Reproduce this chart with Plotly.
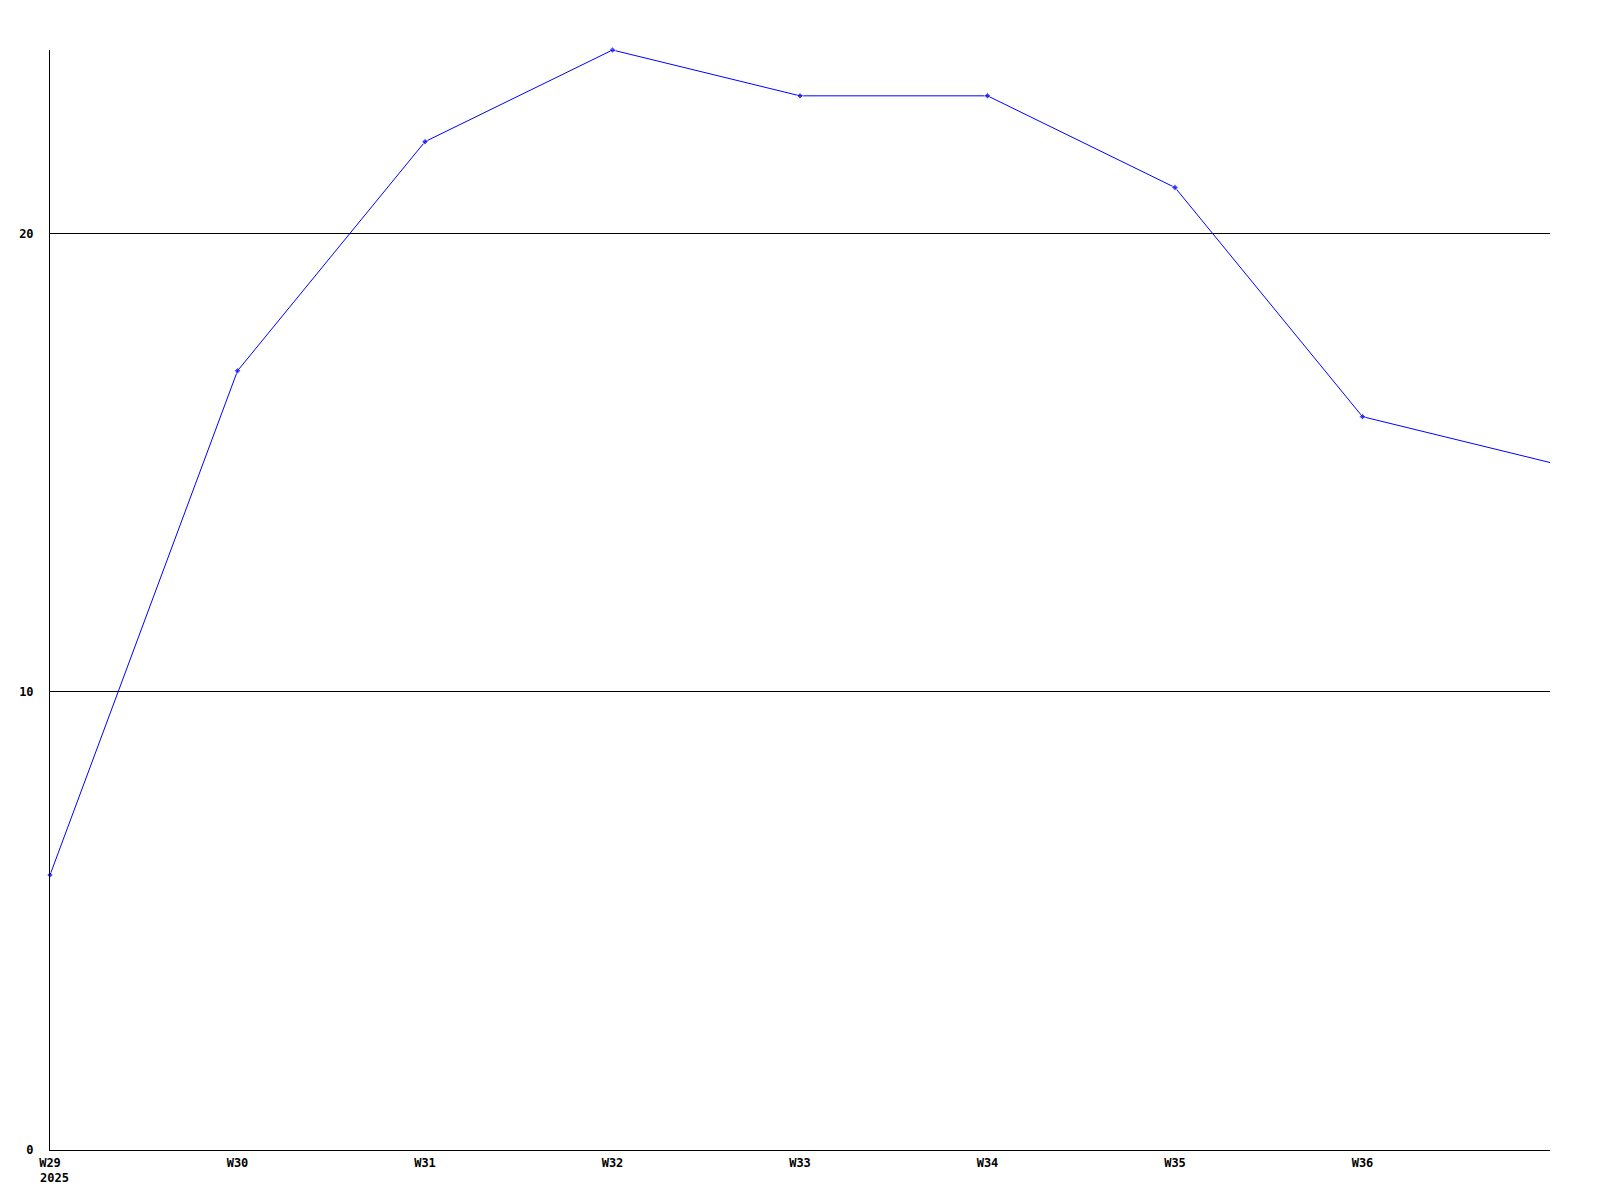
import plotly.graph_objects as go

weeks = ["W29", "W30", "W31", "W32", "W33", "W34", "W35", "W36", "W37"]
values = [6, 17, 22, 24, 23, 23, 21, 16, 15]
tick_weeks = ["W29", "W30", "W31", "W32", "W33", "W34", "W35", "W36"]
year_label = "2025"
y_ticks = [0, 10, 20]

marker_sizes = [5] * (len(values) - 1) + [0]

fig = go.Figure()
fig.add_trace(go.Scatter(
    x=weeks, y=values, mode="lines+markers",
    line=dict(color="#0000ff", width=1),
    marker=dict(color="#0000ff", size=marker_sizes, symbol="diamond"),
    cliponaxis=False, showlegend=False,
))

font = dict(family="DejaVu Sans Mono", size=12, color="black", weight="bold")

fig.update_layout(
    width=1600, height=1200,
    margin=dict(l=42, r=58, t=42, b=58),
    paper_bgcolor="white", plot_bgcolor="white",
    font=font,
    xaxis=dict(
        type="category", range=[0, len(weeks) - 1],
        tickmode="array", tickvals=tick_weeks, ticktext=tick_weeks,
        showgrid=False, showline=True, linecolor="black", linewidth=1,
        ticks="", zeroline=False, tickfont=font, ticklabelstandoff=2,
    ),
    yaxis=dict(
        range=[0, 24], tickmode="array", tickvals=y_ticks,
        showgrid=True, gridcolor="black", gridwidth=1,
        showline=True, linecolor="black", linewidth=1,
        ticks="", zeroline=False, tickfont=font, ticklabelstandoff=13,
    ),
    annotations=[dict(
        text=year_label, x=0, y=0, xref="x", yref="paper",
        xanchor="left", yanchor="top", xshift=-12, yshift=-19,
        showarrow=False, font=font,
    )],
)

fig.write_html("out.html")
